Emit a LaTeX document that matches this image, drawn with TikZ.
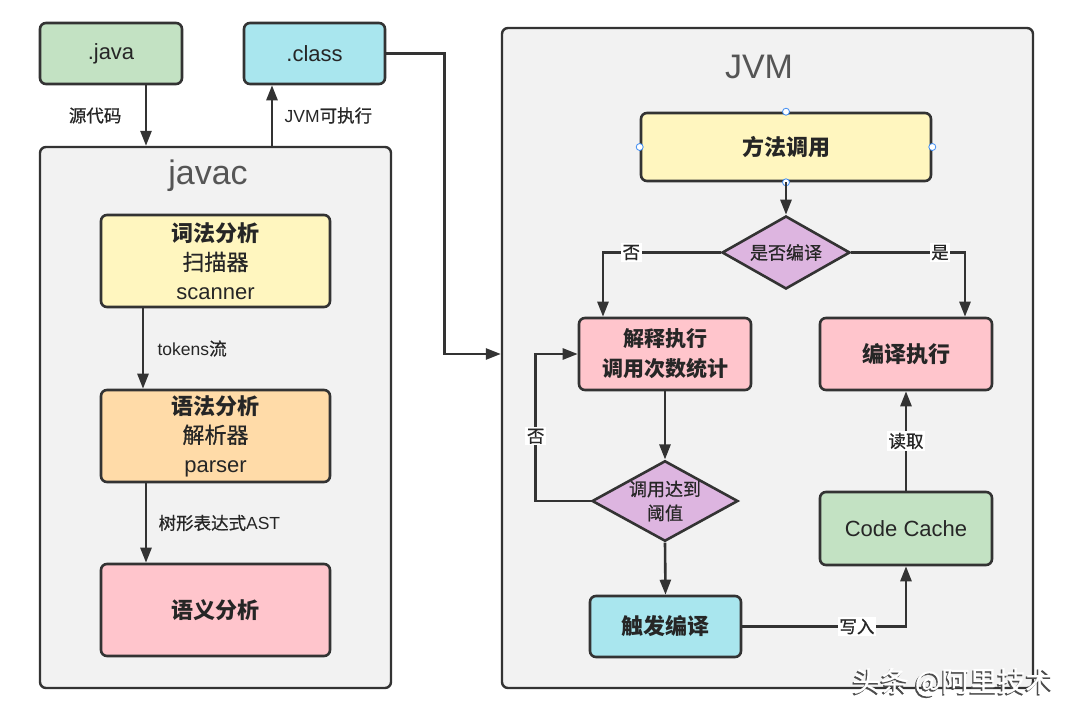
\documentclass[tikz,border=0pt]{standalone}
\usepackage{fontspec}
\setmainfont{Noto Sans CJK SC}
\newfontfamily\medium[FakeBold=0.7]{Noto Sans CJK SC}
\newfontfamily\latin{Liberation Sans}
\usetikzlibrary{arrows.meta,shapes.geometric,positioning,calc}

\definecolor{edge}{HTML}{333333}
\definecolor{ink}{HTML}{262626}
\definecolor{panelgray}{HTML}{F2F2F2}
\definecolor{titlegray}{HTML}{555555}
\definecolor{mint}{HTML}{C3E2C3}
\definecolor{aqua}{HTML}{A9E6EE}
\definecolor{lemon}{HTML}{FFF6BF}
\definecolor{peach}{HTML}{FFDBA8}
\definecolor{rose}{HTML}{FFC5CC}
\definecolor{lilac}{HTML}{DDB5E0}
\definecolor{handleblue}{HTML}{3D8BF2}

% white watermark text with a dark drop shadow
\newcommand{\shadowed}[1]{\rlap{\raisebox{-1.6pt}{\hspace*{-1.4pt}\textcolor{black!70}{#1}}}#1}

\begin{document}
\begin{tikzpicture}[x=1pt,y=-1pt,
  panel/.style={draw=edge, fill=panelgray, line width=2.4pt, rounded corners=6pt, inner sep=0pt},
  head/.style={text=titlegray, font=\fontsize{34}{40}\selectfont\latin},
  box/.style={draw=edge, line width=2.6pt, rounded corners=6pt, inner sep=0pt,
    align=center, text=ink, font=\fontsize{22}{29}\selectfont},
  choice/.style={diamond, draw=edge, fill=lilac, line width=2.6pt, inner sep=0pt,
    align=center, text=ink, font=\fontsize{18}{24}\selectfont\medium},
  arr/.style={draw=edge, line width=2.6pt, -{Triangle[length=15pt,width=11pt]}},
  lbl/.style={text=ink, font=\fontsize{17.5}{20}\selectfont\medium},
  tag/.style={lbl, fill=white, inner sep=1.5pt},
  handle/.style={draw=handleblue, fill=white, line width=0.8pt},
  wmtext/.style={text=white, font=\fontsize{28}{32}\selectfont\medium}]

% Canvas
\fill[white] (0,0) rectangle (1080,716);
\useasboundingbox (0,0) rectangle (1080,716);

% Containers
\node[panel, minimum width=351, minimum height=541] (javac) at (215.5,417.5) {};
\node[head] (javactitle) at (208,176) {javac};
\node[panel, minimum width=531, minimum height=660] (jvm) at (767.5,358) {};
\node[head] (jvmtitle) at (759,67) {JVM};

% Source and class files
\node[box, fill=mint, minimum width=142, minimum height=61] (java) at (111,53.5) {\latin .java};
\node[box, fill=aqua, minimum width=141, minimum height=61] (class) at (314.5,53.5) {\latin .class};

% javac stages
\node[box, fill=lemon, minimum width=229, minimum height=92] (lex) at (215.5,261)
  {\bfseries 词法分析\\{\medium 扫描器}\\{\latin scanner}};
\node[box, fill=peach, minimum width=229, minimum height=92] (syn) at (215.5,436)
  {\bfseries 语法分析\\{\medium 解析器}\\{\latin parser}};
\node[box, fill=rose, minimum width=229, minimum height=92, font=\fontsize{22}{29}\selectfont\bfseries] (sem) at (215.5,610) {语义分析};

% JVM flow
\node[box, fill=lemon, minimum width=290, minimum height=68, font=\fontsize{22}{29}\selectfont\bfseries] (call) at (786,147) {方法调用};
\node[choice, minimum width=128, minimum height=73, aspect=1.75] (decide) at (786,252.5) {是否编译};
\node[box, fill=rose, minimum width=172, minimum height=72, font=\fontsize{21}{30}\selectfont\bfseries] (interp) at (665,354) {解释执行\\调用次数统计};
\node[box, fill=rose, minimum width=172, minimum height=72, font=\fontsize{22}{29}\selectfont\bfseries] (compile) at (906,354) {编译执行};
\node[choice, minimum width=146, minimum height=80, aspect=1.8] (check) at (665,501) {调用达到\\阈值};
\node[box, fill=aqua, minimum width=151, minimum height=61, font=\fontsize{22}{29}\selectfont\bfseries] (trigger) at (665.5,626.5) {触发编译};
\node[box, fill=mint, minimum width=172, minimum height=73] (cache) at (906,528.5) {\latin Code Cache};

% Selection handles
\foreach \side in {north,south,east,west}
  \draw[handle] (call.\side) circle (3.5pt);

% javac connectors
\draw[arr] ([xshift=35]java.south) -- node[lbl, left=20pt] {源代码} ([xshift=-69.5]javac.north);
\draw[arr] ([xshift=56.5]javac.north) -- node[lbl, right=8pt] {{\latin JVM}可执行} ([xshift=-42.5]class.south);
\draw[arr] ([xshift=-72.5]lex.south) -- node[lbl, right=10pt] {{\latin tokens}流} ([xshift=-72.5]syn.north);
\draw[arr] ([xshift=-69.5]syn.south) -- node[lbl, right=8pt] {树形表达式{\latin AST}} ([xshift=-69.5]sem.north);
\draw[arr] (class.east) -- ++(58,0) |- (jvm.west |- interp.west);

% JVM connectors
\draw[arr] (call.south) -- (decide.north);
\draw[arr] (decide.west) -| node[tag, pos=0.38] {否} ([xshift=-62]interp.north);
\draw[arr] (decide.east) -| node[tag, pos=0.39] {是} ([xshift=59]compile.north);
\draw[arr] (interp.south) -- (check.north);
\draw[arr] (check.west) -- ++(-55,0) |- node[tag, pos=0.22] {否} (interp.west);
\draw[arr] (check.south) -- (trigger.north);
\draw[arr] (trigger.east) -| node[tag, pos=0.35] {写入} (cache.south);
\draw[arr] (cache.north) -- node[tag] {读取} (compile.south);

% Watermark
\node[wmtext] (stamp) at (953,683) {\shadowed{头条 @阿里技术}};

\end{tikzpicture}
\end{document}
